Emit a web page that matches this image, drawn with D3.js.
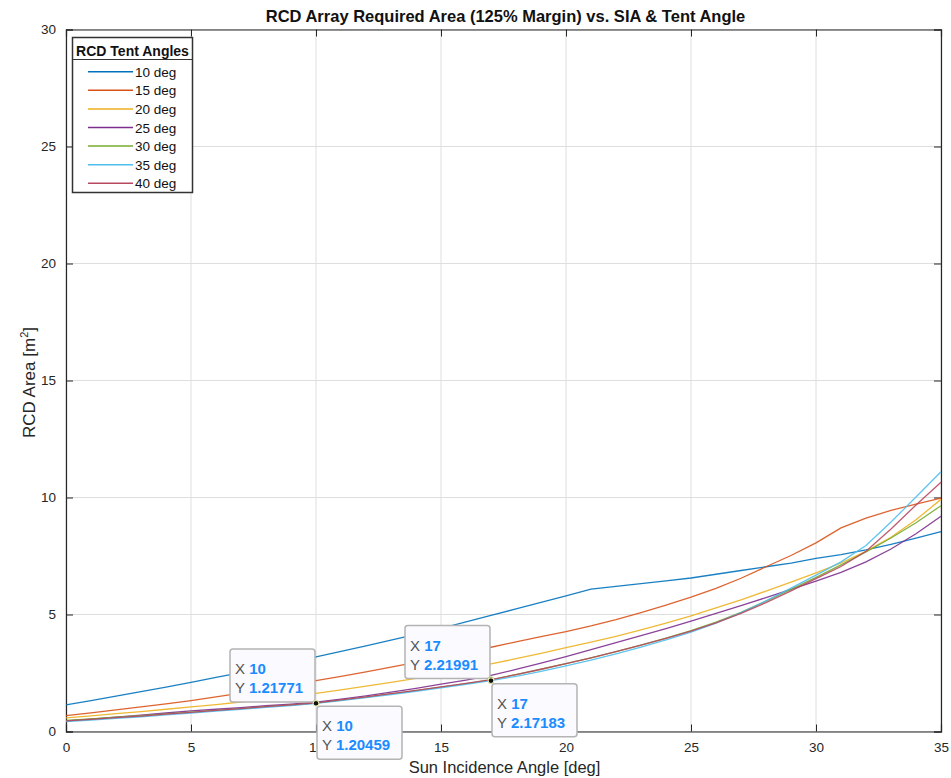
<!DOCTYPE html>
<html><head><meta charset="utf-8">
<script src="https://cdn.jsdelivr.net/npm/d3@7"></script>
<style>body{margin:0;background:#fff;}svg{display:block;font-family:"Liberation Sans",Arial,Helvetica,sans-serif;}</style>
</head><body>
<svg id="chart" width="951" height="778"></svg>
<script>
const sia = d3.range(0, 36);
const tentAngles = ["10 deg","15 deg","20 deg","25 deg","30 deg","35 deg","40 deg"];
const area10 = [1.14,1.32,1.51,1.70,1.90,2.10,2.31,2.52,2.74,2.96,3.19,3.42,3.66,3.90,4.15,4.41,4.68,4.96,5.24,5.52,5.80,6.08,6.20,6.32,6.44,6.56,6.72,6.88,7.04,7.20,7.40,7.56,7.76,8.00,8.26,8.54];
const area15 = [0.68,0.80,0.92,1.05,1.18,1.32,1.48,1.64,1.81,1.99,2.17,2.36,2.55,2.75,2.95,3.16,3.38,3.60,3.83,4.05,4.27,4.51,4.78,5.08,5.40,5.74,6.12,6.55,7.04,7.52,8.06,8.70,9.12,9.45,9.72,9.97];
const area20 = [0.58,0.67,0.76,0.85,0.95,1.05,1.15,1.26,1.38,1.50,1.63,1.78,1.94,2.10,2.27,2.46,2.66,2.89,3.11,3.34,3.58,3.82,4.07,4.34,4.63,4.94,5.28,5.63,6.00,6.38,6.78,7.20,7.70,8.30,9.05,9.92];
const area25 = [0.45,0.53,0.61,0.70,0.79,0.88,0.95,1.02,1.10,1.17,1.25,1.38,1.52,1.68,1.84,2.02,2.20,2.40,2.65,2.92,3.20,3.50,3.80,4.10,4.40,4.72,5.05,5.38,5.72,6.07,6.43,6.80,7.25,7.80,8.45,9.20];
const area30 = [0.47,0.54,0.61,0.68,0.75,0.83,0.90,0.98,1.06,1.13,1.21,1.34,1.47,1.61,1.75,1.90,2.05,2.21,2.43,2.66,2.90,3.15,3.41,3.69,3.99,4.31,4.67,5.09,5.57,6.07,6.59,7.12,7.67,8.27,8.92,9.65];
const area35 = [0.42,0.49,0.56,0.63,0.71,0.79,0.87,0.95,1.03,1.11,1.20,1.32,1.45,1.58,1.72,1.86,2.01,2.17,2.36,2.57,2.80,3.05,3.32,3.61,3.92,4.25,4.63,5.08,5.58,6.13,6.68,7.25,7.95,8.95,10.02,11.10];
const area40 = [0.45,0.52,0.59,0.66,0.74,0.82,0.90,0.98,1.06,1.14,1.22,1.35,1.48,1.62,1.76,1.91,2.06,2.22,2.43,2.66,2.90,3.15,3.41,3.69,3.98,4.29,4.64,5.05,5.51,6.01,6.53,7.05,7.70,8.65,9.68,10.65];
const seriesValues = [area10,area15,area20,area25,area30,area35,area40];
const colors = ["#0072BD","#D95319","#EDB120","#7E2F8E","#77AC30","#4DBEEE","#B8485F"];
const xTicks = [0,5,10,15,20,25,30,35];
const yTicks = [0,5,10,15,20,25,30];
const dataTips = [
  {x:10, y:1.21771, anchor:"br"},
  {x:10, y:1.20459, anchor:"tl"},
  {x:17, y:2.21991, anchor:"br"},
  {x:17, y:2.17183, anchor:"tl"}
];

const svg = d3.select("#chart");
const L = 66, R = 941, T = 29.5, B = 731.5;
const x = d3.scaleLinear().domain([0,35]).range([L,R]);
const y = d3.scaleLinear().domain([0,30]).range([B,T]);
const axisColor = "#262626";

// grid
const g = svg.append("g");
g.selectAll(".vg").data(xTicks).join("line")
  .attr("x1",d=>x(d)).attr("x2",d=>x(d)).attr("y1",T).attr("y2",B)
  .attr("stroke","#dedede").attr("stroke-width",1);
g.selectAll(".hg").data(yTicks).join("line")
  .attr("y1",d=>y(d)).attr("y2",d=>y(d)).attr("x1",L).attr("x2",R)
  .attr("stroke","#dedede").attr("stroke-width",1);

// axes
const fontTick = "13.5px";
const xAxis = d3.axisBottom(x).tickValues(xTicks).tickSize(-7).tickPadding(11).tickFormat(d3.format("d"));
const yAxis = d3.axisLeft(y).tickValues(yTicks).tickSize(-7).tickPadding(10).tickFormat(d3.format("d"));
const gx = svg.append("g").attr("transform",`translate(0,${B})`).call(xAxis);
const gy = svg.append("g").attr("transform",`translate(${L},0)`).call(yAxis);
const gxt = svg.append("g").attr("transform",`translate(0,${T})`).call(d3.axisTop(x).tickValues(xTicks).tickSize(-7).tickFormat(""));
const gyr = svg.append("g").attr("transform",`translate(${R},0)`).call(d3.axisRight(y).tickValues(yTicks).tickSize(-7).tickFormat(""));
[gx,gy,gxt,gyr].forEach(a=>{
  a.select(".domain").attr("stroke",axisColor).attr("stroke-width",1.2);
  a.selectAll(".tick line").attr("stroke",axisColor);
  a.selectAll(".tick text").attr("fill","#262626").style("font-size",fontTick).style("font-family","'Liberation Sans',Arial,sans-serif");
});

// lines
const line = d3.line().x((d,i)=>x(sia[i])).y(d=>y(d));
svg.append("g").selectAll("path").data(seriesValues).join("path")
  .attr("d",line).attr("fill","none")
  .attr("stroke",(d,i)=>colors[i]).attr("stroke-width",1.3).attr("opacity",0.9);

// labels
svg.append("text").attr("x",(L+R)/2+2).attr("y",22).attr("text-anchor","middle")
  .style("font-size","16.5px").style("font-weight","bold").attr("fill","#111")
  .text("RCD Array Required Area (125% Margin) vs. SIA & Tent Angle");
svg.append("text").attr("x",(L+R)/2+1).attr("y",773).attr("text-anchor","middle")
  .style("font-size","16.5px").attr("fill","#262626").text("Sun Incidence Angle [deg]");
const yl = svg.append("text").attr("transform",`translate(35,${(T+B)/2+2}) rotate(-90)`)
  .attr("text-anchor","middle").style("font-size","17px").attr("fill","#262626");
yl.append("tspan").text("RCD Area [m");
yl.append("tspan").attr("dy",-7).style("font-size","11px").text("2");
yl.append("tspan").attr("dy",7).text("]");

// legend
const lg = svg.append("g");
lg.append("rect").attr("x",72.5).attr("y",37.5).attr("width",120).attr("height",155)
  .attr("fill","#fff").attr("stroke","#333").attr("stroke-width",1.5);
lg.append("line").attr("x1",73).attr("x2",192).attr("y1",59.5).attr("y2",59.5).attr("stroke","#333").attr("stroke-width",1);
lg.append("text").attr("x",132.5).attr("y",55.5).attr("text-anchor","middle")
  .style("font-size","14px").style("font-weight","bold").attr("fill","#111").text("RCD Tent Angles");
tentAngles.forEach((t,i)=>{
  const yy = 71.7 + i*18.6;
  lg.append("line").attr("x1",88).attr("x2",133).attr("y1",yy).attr("y2",yy)
    .attr("stroke",colors[i]).attr("stroke-width",1.5);
  lg.append("text").attr("x",135).attr("y",yy+5).style("font-size","13.5px").attr("fill","#111").text(t);
});

// data tips
const tipW = 85, tipH = 53;
dataTips.forEach(dt=>{
  const px = x(dt.x), py = y(dt.y);
  const bx = dt.anchor==="br" ? px - tipW - 1 : px + 1;
  const by = dt.anchor==="br" ? py - tipH - 1 : py + 3;
  const tg = svg.append("g");
  tg.append("rect").attr("x",bx).attr("y",by).attr("width",tipW).attr("height",tipH).attr("rx",3)
    .attr("fill","#fafaff").attr("stroke","#b4b4b4").attr("stroke-width",1.5);
  const t1 = tg.append("text").attr("x",bx+5).attr("y",by+25).style("font-size","15px");
  t1.append("tspan").attr("fill","#555").text("X ");
  t1.append("tspan").attr("fill","#1a8cff").style("font-weight","bold").text(dt.x);
  const t2 = tg.append("text").attr("x",bx+5).attr("y",by+44).style("font-size","15px");
  t2.append("tspan").attr("fill","#555").text("Y ");
  t2.append("tspan").attr("fill","#1a8cff").style("font-weight","bold").text(dt.y);
  tg.append("circle").attr("cx",px).attr("cy",py).attr("r",2.8).attr("fill","#111").attr("stroke","#f0f0b0").attr("stroke-width",1);
});
</script>
</body></html>
